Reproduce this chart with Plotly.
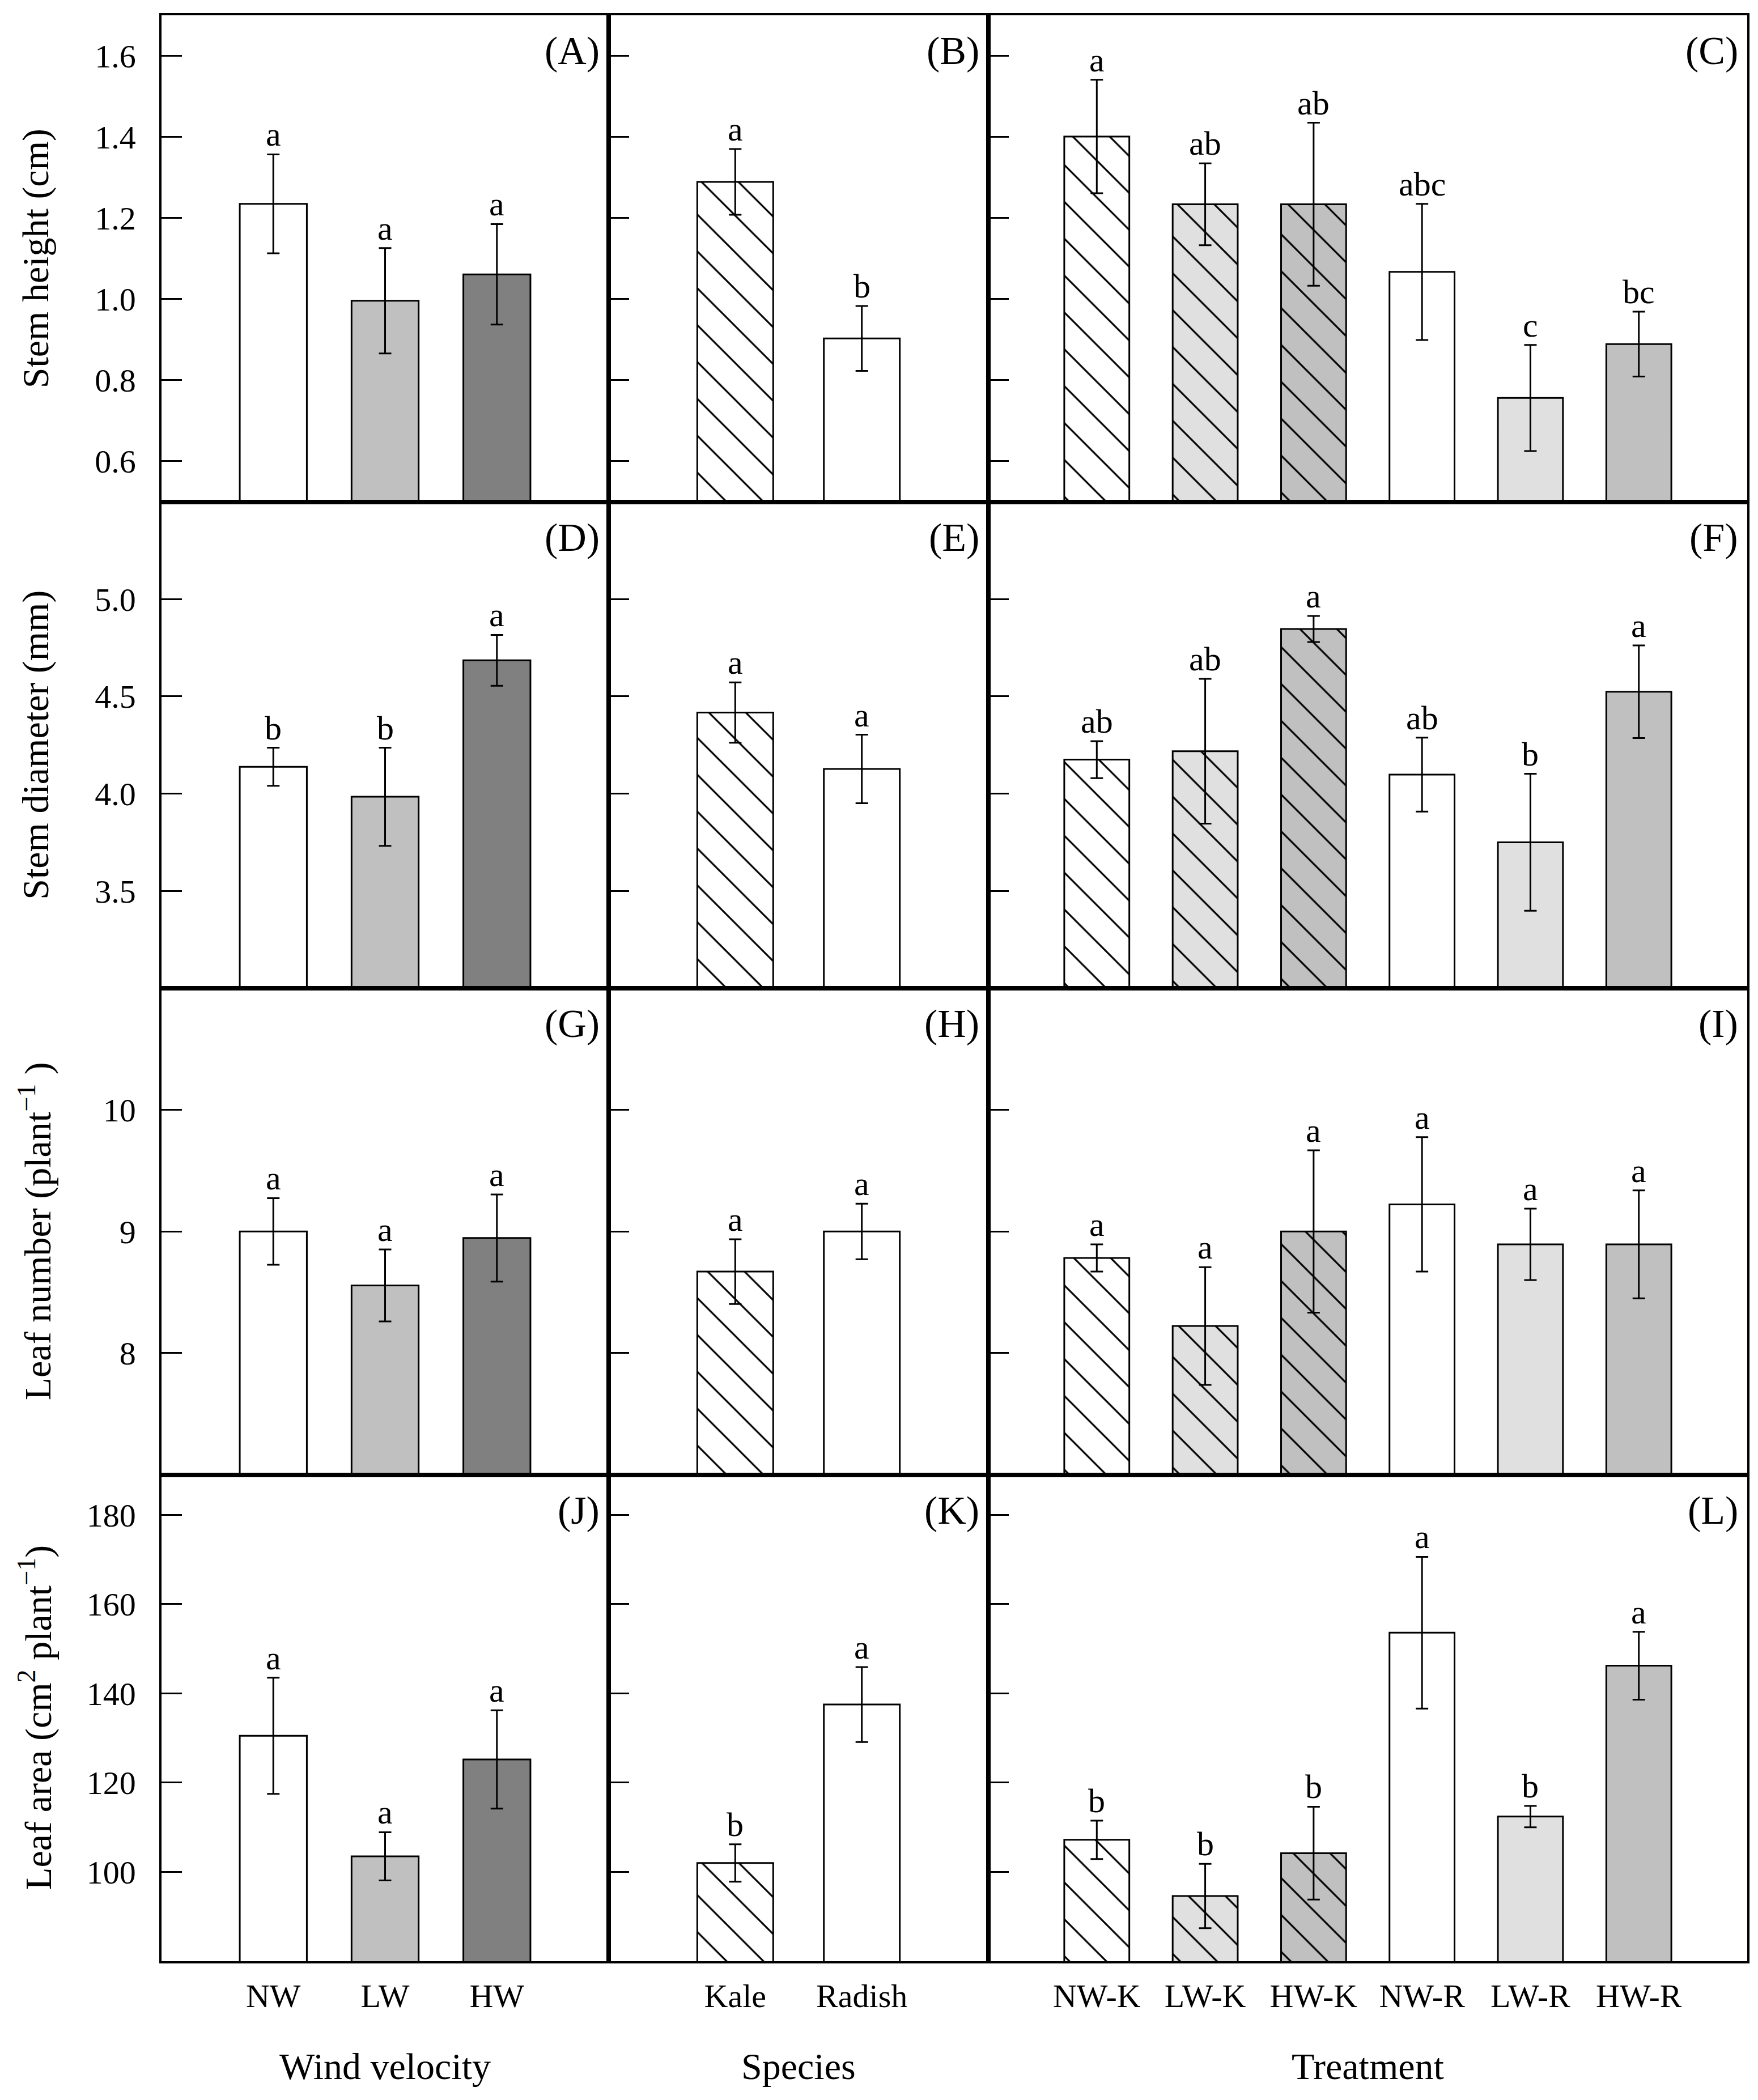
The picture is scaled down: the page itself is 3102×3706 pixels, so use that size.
import plotly.graph_objects as go
from plotly.subplots import make_subplots

# categories
wind = ["NW", "LW", "HW"]
species = ["Kale", "Radish"]
treat = ["NW-K", "LW-K", "HW-K", "NW-R", "LW-R", "HW-R"]

# stem height (cm)
height_wind = [1.235, 0.996, 1.061]
height_wind_se = [0.122, 0.130, 0.124]
height_wind_let = ["a", "a", "a"]
height_sp = [1.289, 0.903]
height_sp_se = [0.081, 0.080]
height_sp_let = ["a", "b"]
height_tr = [1.401, 1.234, 1.234, 1.067, 0.756, 0.889]
height_tr_se = [0.140, 0.101, 0.201, 0.168, 0.131, 0.080]
height_tr_let = ["a", "ab", "ab", "abc", "c", "bc"]

# stem diameter (mm)
diam_wind = [4.138, 3.984, 4.685]
diam_wind_se = [0.098, 0.252, 0.131]
diam_wind_let = ["b", "b", "a"]
diam_sp = [4.417, 4.127]
diam_sp_se = [0.155, 0.176]
diam_sp_let = ["a", "a"]
diam_tr = [4.175, 4.218, 4.846, 4.098, 3.750, 4.524]
diam_tr_se = [0.095, 0.372, 0.067, 0.190, 0.352, 0.238]
diam_tr_let = ["ab", "ab", "a", "ab", "b", "a"]

# leaf number (plant-1)
leafn_wind = [9.0, 8.556, 8.946]
leafn_wind_se = [0.274, 0.296, 0.358]
leafn_wind_let = ["a", "a", "a"]
leafn_sp = [8.67, 9.0]
leafn_sp_se = [0.266, 0.228]
leafn_sp_let = ["a", "a"]
leafn_tr = [8.782, 8.223, 9.0, 9.223, 8.894, 8.894]
leafn_tr_se = [0.112, 0.484, 0.668, 0.553, 0.293, 0.444]
leafn_tr_let = ["a", "a", "a", "a", "a", "a"]

# leaf area (cm2 plant-1)
area_wind = [130.5, 103.5, 125.2]
area_wind_se = [13.0, 5.4, 11.0]
area_wind_let = ["a", "a", "a"]
area_sp = [102.0, 137.5]
area_sp_se = [4.2, 8.4]
area_sp_let = ["b", "a"]
area_tr = [107.2, 94.6, 104.2, 153.6, 112.4, 146.2]
area_tr_se = [4.3, 7.2, 10.4, 17.0, 2.4, 7.6]
area_tr_let = ["b", "b", "b", "a", "b", "a"]

# y axis settings per row
y_ranges = [[0.5, 1.7], [3.0, 5.5], [7, 11], [80, 189]]
y_ticks = [[0.6, 0.8, 1.0, 1.2, 1.4, 1.6], [3.5, 4.0, 4.5, 5.0], [8, 9, 10],
           [100, 120, 140, 160, 180]]
y_fmt = [".1f", ".1f", "d", "d"]
y_titles = ["Stem height (cm)", "Stem diameter (mm)",
            "Leaf number (plant<sup>\u22121</sup> )",
            "Leaf area (cm<sup>2</sup> plant<sup>\u22121</sup>)"]
x_titles = ["Wind velocity", "Species", "Treatment"]
panel_labels = ["(A)", "(B)", "(C)", "(D)", "(E)", "(F)",
                "(G)", "(H)", "(I)", "(J)", "(K)", "(L)"]

# fills / hatching per column
wind_fill = ["white", "#c0c0c0", "#808080"]
wind_hatch = ["", "", ""]
sp_fill = ["white", "white"]
sp_hatch = ["\\", ""]
tr_fill = ["white", "#e0e0e0", "#c0c0c0", "white", "#e0e0e0", "#c0c0c0"]
tr_hatch = ["\\", "\\", "\\", "", "", ""]

rows = [
    [(height_wind, height_wind_se, height_wind_let),
     (height_sp, height_sp_se, height_sp_let),
     (height_tr, height_tr_se, height_tr_let)],
    [(diam_wind, diam_wind_se, diam_wind_let),
     (diam_sp, diam_sp_se, diam_sp_let),
     (diam_tr, diam_tr_se, diam_tr_let)],
    [(leafn_wind, leafn_wind_se, leafn_wind_let),
     (leafn_sp, leafn_sp_se, leafn_sp_let),
     (leafn_tr, leafn_tr_se, leafn_tr_let)],
    [(area_wind, area_wind_se, area_wind_let),
     (area_sp, area_sp_se, area_sp_let),
     (area_tr, area_tr_se, area_tr_let)],
]
cols = [(wind, wind_fill, wind_hatch), (species, sp_fill, sp_hatch),
        (treat, tr_fill, tr_hatch)]

FONT = "Liberation Serif"
W, H = 3102, 3706
ML, MR, MT, MB = 277, 27, 19, 253
AXW = 3.5

fig = make_subplots(rows=4, cols=3, column_widths=[789, 670, 1339],
                    horizontal_spacing=0, vertical_spacing=0)

annotations = []
for r in range(4):
    for c in range(3):
        cats, fills, hatch = cols[c]
        vals, se, lets = rows[r][c]
        n = r * 3 + c + 1
        sfx = "" if n == 1 else str(n)
        # solid fill
        fig.add_trace(go.Bar(x=cats, y=vals, width=0.6,
                             marker=dict(color=fills, line=dict(width=0)),
                             showlegend=False, hoverinfo="skip"),
                      row=r + 1, col=c + 1)
        # hatching, outline and error bars on top
        fig.add_trace(go.Bar(
            x=cats, y=vals, width=0.6,
            marker=dict(color="rgba(0,0,0,0)", line=dict(color="black", width=3),
                        pattern=dict(shape=hatch, fgcolor="black", size=46,
                                     solidity=0.07, fillmode="replace")),
            error_y=dict(type="data", array=se, color="black", thickness=3, width=11),
            showlegend=False), row=r + 1, col=c + 1)
        for cat, v, s, t in zip(cats, vals, se, lets):
            annotations.append(dict(x=cat, y=v + s, xref="x" + sfx, yref="y" + sfx,
                                    text=t, showarrow=False, yanchor="bottom", yshift=0,
                                    font=dict(family=FONT, size=60, color="black")))
        annotations.append(dict(x=1, y=1, xref="x" + sfx + " domain",
                                yref="y" + sfx + " domain", text=panel_labels[n - 1],
                                showarrow=False, xanchor="right", yanchor="top",
                                xshift=-14, yshift=-22,
                                font=dict(family=FONT, size=70, color="black")))
        fig.update_xaxes(type="category", range=[-1, len(cats)], showline=True,
                         mirror=True, linecolor="black", linewidth=AXW, ticks="",
                         showgrid=False, showticklabels=(r == 3),
                         tickfont=dict(family=FONT, size=58, color="black"),
                         ticklabelstandoff=8, row=r + 1, col=c + 1)
        fig.update_yaxes(range=y_ranges[r], tickvals=y_ticks[r], tickformat=y_fmt[r],
                         showline=True, mirror=True, linecolor="black", linewidth=AXW,
                         ticks="inside", ticklen=36, tickwidth=3, tickcolor="black",
                         showgrid=False, zeroline=False, showticklabels=(c == 0),
                         tickfont=dict(family=FONT, size=58, color="black"),
                         ticklabelstandoff=30, row=r + 1, col=c + 1)

plot_w = W - ML - MR
plot_h = H - MT - MB
for r in range(4):
    yc = 1 - (r + 0.5) / 4
    annotations.append(dict(x=(55 - ML) / plot_w, y=yc, xref="paper", yref="paper",
                            text=y_titles[r], textangle=-90, showarrow=False,
                            xanchor="center", yanchor="middle",
                            font=dict(family=FONT, size=66, color="black")))
x_centers = [(277 + 1066) / 2, (1066 + 1736) / 2, (1736 + 3075) / 2]
for xc, t in zip(x_centers, x_titles):
    annotations.append(dict(x=(xc - ML) / plot_w, y=-(3638 - (H - MB)) / plot_h,
                            xref="paper", yref="paper", text=t, showarrow=False,
                            xanchor="center", yanchor="middle",
                            font=dict(family=FONT, size=66, color="black")))

fig.update_layout(width=W, height=H, margin=dict(l=ML, r=MR, t=MT, b=MB),
                  plot_bgcolor="white", paper_bgcolor="white", barmode="overlay",
                  font=dict(family=FONT, color="black"), annotations=annotations)

fig.write_html("out.html")
